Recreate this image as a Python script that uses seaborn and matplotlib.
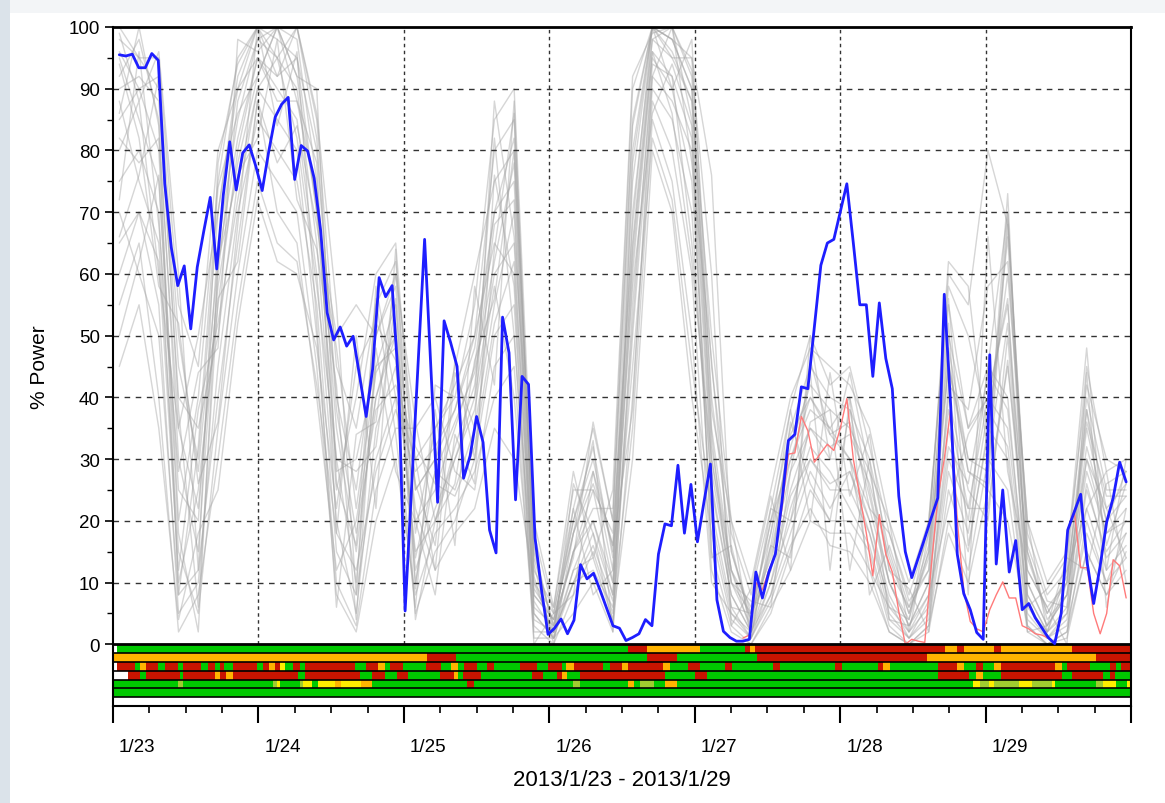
import numpy as np
import pandas as pd
import matplotlib
matplotlib.use('Agg')
import matplotlib.pyplot as plt
import seaborn as sns
from matplotlib.transforms import ScaledTranslation
from matplotlib.patches import Rectangle
from matplotlib.ticker import FixedLocator, MultipleLocator

sns.set_style('ticks')
plt.rcParams['font.family'] = ['Liberation Sans', 'DejaVu Sans']

# ---------------- data ----------------
day_labels = ['1/23', '1/24', '1/25', '1/26', '1/27', '1/28', '1/29', '']
x_title = '2013/1/23 - 2013/1/29'
y_title = '% Power'

blue_power = [95.5, 95.3, 95.6, 93.4, 93.4, 95.7, 94.6, 74.6, 64.3, 58.1,
              61.3, 51.1, 61.1, 66.9, 72.4, 60.8, 72.7, 81.4, 73.6, 79.6,
              80.9, 77.5, 73.5, 79.8, 85.4, 87.5, 88.6, 75.3, 80.8, 79.9,
              75.5, 67.0, 53.7, 49.3, 51.4, 48.3, 49.9, 43.4, 36.9, 44.6,
              59.4, 56.3, 58.1, 42.1, 5.4, 25.5, 45.5, 65.6, 44.0, 23.0,
              52.4, 48.9, 45.0, 26.9, 30.5, 36.9, 32.7, 18.5, 14.8, 53.0,
              47.2, 23.4, 43.4, 42.1, 17.2, 8.8, 1.6, 2.6, 4.1, 1.7,
              3.9, 12.9, 10.6, 11.5, 8.8, 5.9, 3.0, 2.6, 0.6, 1.1,
              1.7, 4.0, 3.0, 14.6, 19.5, 19.2, 29.0, 18.0, 25.9, 16.6,
              23.0, 29.2, 7.2, 2.1, 1.1, 0.5, 0.5, 0.8, 11.7, 7.5,
              11.7, 14.6, 23.0, 33.0, 34.0, 41.7, 41.4, 51.4, 61.4, 65.0,
              65.6, 70.1, 74.6, 65.0, 55.0, 55.0, 43.4, 55.3, 46.3, 41.4,
              24.0, 15.0, 10.8, 14.0, 17.2, 20.5, 23.7, 56.7, 38.5, 14.6,
              8.2, 5.6, 1.9, 0.8, 46.9, 13.0, 25.0, 11.7, 16.8, 5.6,
              6.6, 4.3, 2.7, 1.1, 0.1, 5.0, 18.5, 21.4, 24.3, 13.2,
              6.6, 12.7, 19.8, 23.7, 29.5, 26.3]

red_start_index = 96
red_power = [1, 1.5, 10, 8.8, 12, 14.6, 22, 30.8, 31, 36.9,
             34.6, 29.5, 31, 32.4, 31.4, 35, 39.8, 30, 24, 18,
             11.1, 21, 14.6, 11.7, 5.3, 0, 0.8, 0.5, 0.3, 12.7,
             23.7, 30, 38.2, 20, 8.8, 3.7, 2.5, 2, 5.6, 8,
             10.1, 7.5, 7.5, 3, 2.5, 1.7, 1.5, 1, 0.2, 5,
             18.5, 21.7, 12.4, 12.4, 5, 1.7, 5, 13.7, 12.7, 7.5]

gray_members = [
    [98, 95, 90, 45, 30, 70, 92, 100, 98, 95, 80, 40, 25, 50, 60, 25, 30, 38, 50, 80,
     85, 15, 3, 20, 30, 15, 80, 100, 98, 90, 40, 15, 5, 20, 35, 45, 40, 38, 30, 15,
     5, 15, 55, 35, 45, 70, 15, 5, 10, 40, 25, 25],
    [92, 98, 85, 30, 15, 60, 88, 98, 100, 92, 70, 30, 10, 45, 55, 20, 25, 35, 45, 70,
     75, 10, 2, 15, 25, 10, 70, 98, 100, 85, 30, 10, 3, 15, 30, 40, 35, 40, 25, 10,
     3, 10, 45, 30, 28, 70, 10, 3, 8, 35, 20, 28],
    [85, 90, 80, 20, 40, 75, 95, 100, 95, 100, 85, 45, 35, 55, 62, 30, 35, 40, 55, 85,
     90, 18, 5, 22, 35, 20, 85, 100, 95, 95, 45, 18, 8, 22, 38, 50, 42, 45, 32, 18,
     8, 18, 60, 55, 80, 68, 18, 8, 12, 45, 28, 30],
    [75, 80, 70, 10, 25, 55, 80, 95, 90, 85, 60, 20, 5, 35, 45, 15, 20, 30, 40, 60,
     65, 5, 1, 12, 20, 8, 60, 95, 90, 75, 25, 8, 2, 12, 25, 35, 30, 30, 20, 8,
     2, 8, 40, 25, 20, 50, 8, 2, 6, 30, 18, 22],
    [100, 95, 95, 55, 45, 80, 90, 100, 100, 98, 75, 35, 15, 40, 50, 10, 28, 25, 35, 55,
     70, 8, 4, 18, 28, 12, 75, 100, 100, 92, 35, 12, 6, 18, 32, 42, 38, 35, 28, 12,
     6, 12, 50, 35, 40, 55, 12, 6, 10, 38, 22, 26],
    [60, 70, 55, 5, 10, 45, 70, 85, 80, 75, 55, 15, 8, 30, 40, 5, 15, 20, 30, 50,
     55, 3, 0, 8, 15, 5, 50, 90, 85, 70, 20, 5, 1, 10, 20, 30, 25, 25, 18, 5,
     1, 5, 35, 20, 45, 40, 5, 1, 4, 25, 15, 20],
    [95, 85, 75, 25, 20, 65, 85, 98, 95, 90, 65, 25, 40, 60, 65, 25, 30, 45, 60, 75,
     80, 12, 6, 25, 25, 18, 65, 98, 95, 88, 50, 20, 10, 25, 40, 48, 45, 42, 35, 20,
     10, 20, 58, 50, 35, 60, 20, 10, 15, 42, 30, 28],
    [90, 92, 88, 40, 35, 50, 75, 90, 85, 80, 50, 10, 3, 25, 35, 35, 40, 28, 25, 45,
     50, 2, 2, 10, 18, 3, 55, 92, 88, 80, 15, 3, 0, 5, 15, 25, 20, 20, 15, 3,
     0, 3, 25, 15, 35, 30, 3, 0, 2, 20, 10, 18],
    [88, 75, 65, 15, 5, 35, 60, 80, 75, 70, 45, 8, 2, 20, 30, 8, 18, 22, 28, 40,
     45, 1, 1, 5, 10, 2, 40, 88, 80, 60, 12, 2, 0, 6, 12, 20, 18, 18, 12, 2,
     0, 2, 20, 12, 30, 25, 2, 0, 1, 15, 8, 15],
    [80, 88, 60, 35, 50, 70, 90, 95, 92, 95, 70, 50, 55, 50, 58, 18, 35, 42, 50, 65,
     60, 6, 3, 15, 22, 22, 90, 100, 98, 95, 76, 15, 4, 20, 30, 38, 35, 30, 22, 10,
     4, 15, 45, 28, 25, 45, 15, 4, 8, 32, 20, 24],
    [70, 60, 50, 8, 12, 40, 65, 88, 70, 65, 40, 12, 20, 40, 52, 12, 22, 30, 38, 58,
     40, 4, 2, 10, 12, 6, 35, 85, 75, 50, 10, 5, 2, 8, 18, 28, 22, 28, 20, 6,
     2, 6, 30, 22, 40, 35, 6, 2, 5, 22, 12, 16],
    [96, 90, 92, 50, 28, 62, 82, 95, 88, 88, 72, 28, 30, 45, 48, 22, 12, 18, 22, 35,
     30, 10, 5, 20, 32, 14, 62, 96, 92, 82, 28, 10, 5, 14, 28, 35, 32, 34, 26, 14,
     5, 14, 48, 30, 30, 52, 14, 5, 11, 36, 24, 24],
    [55, 65, 40, 2, 8, 30, 55, 75, 65, 62, 42, 18, 12, 28, 38, 28, 32, 38, 48, 70,
     82, 14, 3, 15, 20, 10, 45, 82, 72, 45, 22, 6, 1, 8, 22, 32, 28, 22, 16, 4,
     1, 4, 28, 18, 38, 32, 4, 1, 3, 18, 10, 14],
    [45, 55, 35, 4, 18, 25, 52, 72, 62, 60, 48, 22, 45, 52, 46, 14, 28, 36, 44, 62,
     78, 7, 2, 12, 14, 4, 30, 80, 70, 40, 18, 4, 1, 7, 16, 22, 16, 15, 10, 2,
     0, 3, 18, 10, 25, 20, 3, 0, 2, 15, 8, 12],
    [82, 78, 82, 35, 22, 58, 78, 92, 100, 100, 82, 38, 18, 38, 42, 32, 26, 24, 32, 52,
     62, 9, 4, 18, 26, 16, 68, 100, 96, 88, 32, 12, 4, 16, 34, 40, 34, 36, 24, 10,
     3, 10, 38, 22, 22, 46, 10, 3, 8, 28, 18, 20],
    [65, 70, 62, 12, 38, 52, 72, 90, 95, 82, 58, 30, 28, 32, 56, 4, 20, 32, 42, 68,
     72, 5, 1, 10, 16, 7, 52, 94, 92, 65, 26, 8, 2, 10, 24, 30, 26, 28, 18, 7,
     1, 7, 32, 26, 44, 38, 7, 1, 5, 26, 14, 18],
    [99, 88, 96, 60, 12, 78, 94, 100, 92, 100, 86, 55, 8, 58, 40, 30, 12, 44, 35, 88,
     66, 20, 6, 28, 14, 25, 92, 99, 100, 93, 60, 3, 9, 24, 12, 50, 30, 44, 28, 20,
     2, 18, 62, 58, 30, 73, 6, 9, 14, 48, 12, 30],
    [72, 96, 68, 28, 44, 48, 98, 96, 100, 88, 78, 18, 50, 22, 64, 9, 38, 16, 58, 42,
     88, 13, 0, 18, 33, 2, 78, 100, 90, 98, 38, 20, 1, 18, 38, 20, 44, 24, 34, 12,
     9, 2, 42, 38, 58, 62, 20, 2, 12, 22, 28, 10],
    [50, 62, 76, 18, 2, 62, 76, 82, 98, 72, 64, 42, 4, 48, 28, 20, 8, 34, 26, 76,
     58, 0, 5, 8, 28, 16, 38, 92, 100, 78, 46, 10, 7, 6, 28, 44, 12, 40, 8, 16,
     6, 16, 52, 8, 66, 28, 12, 6, 0, 44, 6, 22],
    [94, 82, 58, 52, 26, 36, 68, 100, 84, 96, 52, 6, 34, 36, 60, 36, 20, 26, 46, 56,
     80, 16, 2, 22, 8, 12, 58, 86, 94, 84, 14, 16, 3, 22, 20, 36, 38, 12, 30, 4,
     3, 8, 22, 34, 40, 56, 2, 3, 14, 12, 26, 28],
    [86, 100, 84, 8, 32, 74, 86, 92, 100, 92, 90, 26, 16, 56, 34, 6, 42, 40, 40, 82,
     50, 8, 4, 14, 36, 20, 84, 100, 98, 90, 34, 6, 5, 12, 36, 26, 20, 38, 22, 18,
     7, 12, 46, 28, 26, 68, 16, 7, 6, 38, 16, 26],
    [66, 76, 92, 38, 6, 56, 62, 88, 78, 84, 68, 48, 22, 44, 50, 26, 16, 46, 30, 64,
     86, 11, 1, 26, 18, 8, 64, 96, 86, 62, 30, 12, 2, 16, 14, 46, 34, 30, 12, 6,
     4, 20, 56, 16, 34, 66, 8, 2, 10, 30, 22, 14],
]

# status strip: (status code, end hour) runs, top row first
strip_rows = [
    [('w', 0.6), ('g', 85), ('r', 88.1), ('o', 96.9), ('g', 104.3), ('r', 105.1), ('o', 106.0),
     ('r', 137.3), ('o', 139.3), ('r', 140.4), ('o', 145.4), ('r', 146.5), ('o', 158.2), ('r', 168)],
    [('o', 51.8), ('r', 56.6), ('g', 88.1), ('r', 93.0), ('g', 106.2), ('r', 134.3), ('o', 162.3), ('r', 168)],
    [('w', 0.6), ('r', 3.6), ('g', 4.4), ('o', 5.5), ('r', 7.4), ('g', 8.6), ('r', 10.7), ('g', 11.6),
     ('r', 14.6), ('g', 15.7), ('r', 16.8), ('g', 17.6), ('r', 18.4), ('g', 19.8), ('r', 23.7),
     ('g', 24.8), ('r', 25.7), ('o', 26.7), ('r', 27.5), ('y', 28.4), ('g', 29.7), ('r', 30.8),
     ('g', 31.7), ('r', 39.9), ('g', 41.8), ('r', 43.8), ('o', 44.9), ('g', 45.7), ('r', 47.9),
     ('g', 51.7), ('r', 54.2), ('g', 55.8), ('o', 56.9), ('g', 58.0), ('r', 60.0), ('g', 61.8),
     ('r', 62.9), ('g', 67.1), ('r', 69.9), ('g', 71.8), ('r', 74.1), ('g', 74.8), ('o', 76.0),
     ('r', 80.9), ('g', 82.0), ('r', 84.0), ('o', 85.0), ('r', 90.8), ('o', 91.9), ('g', 94.9),
     ('r', 96.9), ('g', 101.0), ('r', 102.1), ('g', 108.9), ('r', 110.0), ('g', 119.2), ('r', 120.3),
     ('g', 126.3), ('r', 127.1), ('o', 128.3), ('g', 136.2), ('r', 139.3), ('o', 140.4), ('g', 142.4),
     ('r', 143.5), ('g', 145.4), ('o', 146.5), ('r', 155.5), ('o', 156.6), ('g', 157.4), ('r', 161.2),
     ('g', 164.5), ('r', 165.6), ('g', 166.4), ('r', 168)],
    [('w', 2.5), ('r', 4.4), ('g', 5.5), ('r', 11.0), ('g', 11.6), ('r', 16.8), ('o', 17.6),
     ('r', 18.7), ('o', 19.8), ('r', 30.6), ('g', 31.7), ('r', 40.7), ('g', 42.7), ('r', 44.9),
     ('g', 46.8), ('r', 48.7), ('g', 54.0), ('r', 56.2), ('o', 56.9), ('g', 57.7), ('r', 60.8),
     ('g', 69.1), ('r', 71.0), ('g', 73.2), ('r', 74.1), ('o', 74.9), ('g', 77.1), ('r', 91.1),
     ('g', 96.0), ('r', 98.0), ('g', 136.2), ('r', 141.2), ('g', 142.4), ('o', 143.5), ('g', 146.5),
     ('r', 156.6), ('g', 158.2), ('r', 163.4), ('g', 164.5), ('r', 165.3), ('g', 168)],
    [('g', 10.7), ('l', 11.6), ('g', 26.4), ('l', 27.0), ('y', 27.6), ('g', 30.8), ('l', 31.3),
     ('y', 32.8), ('g', 33.9), ('y', 36.6), ('o', 37.7), ('y', 41.0), ('o', 42.7), ('g', 58.4),
     ('r', 59.6), ('g', 75.9), ('l', 77.0), ('g', 85.0), ('o', 85.9), ('g', 87.0), ('l', 89.2),
     ('g', 91.1), ('o', 93.0), ('g', 142.0), ('y', 143.1), ('l', 144.5), ('y', 145.4), ('l', 149.5),
     ('y', 151.7), ('l', 155.0), ('y', 155.5), ('g', 162.3), ('l', 163.4), ('y', 165.6), ('g', 167.3),
     ('y', 168)],
    [('g', 168)],
    [('w', 168)],
]
strip_colors = {'g': '#00c800', 'r': '#c81400', 'o': '#ffb400', 'y': '#ffee00',
                'l': '#a0cc30', 'w': '#ffffff'}

# ---------------- figure ----------------
W, H = 1165, 804
fig = plt.figure(figsize=(W / 100, H / 100), dpi=100)
fig.patch.set_facecolor('#f3f5f7')
fig.add_artist(Rectangle((0, 0), 10 / W, 1, transform=fig.transFigure,
                         facecolor='#dbe3ea', edgecolor='none', zorder=-2))
fig.add_artist(Rectangle((10 / W, 0), 1, 1 - 14 / H, transform=fig.transFigure,
                         facecolor='white', edgecolor='none', zorder=-1))

ax = fig.add_axes([113 / W, 1 - 707 / H, (1131 - 113) / W, (707 - 28) / H])
ax.set_facecolor('white')

t_first, t_last = 1.04, 167.2
blue_t = np.linspace(t_first, t_last, len(blue_power))
red_t = blue_t[red_start_index:]
gray_t = np.linspace(t_first, t_last, len(gray_members[0]))

gray_df = pd.DataFrame({
    'hour': np.tile(gray_t, len(gray_members)),
    'power': np.concatenate([np.asarray(m, float) for m in gray_members]),
    'member': np.repeat(np.arange(len(gray_members)), len(gray_t)),
})
sns.lineplot(data=gray_df, x='hour', y='power', units='member', estimator=None,
             color='#a4a4a4', alpha=0.45, lw=1.0, ax=ax, legend=False, zorder=1)

# grid (dashed), only over the positive range
ylo, yhi = -10, 100
for yv in range(10, 100, 10):
    ax.axhline(yv, color='#333333', lw=1.0, ls=(0, (4, 4)), zorder=2)
for xv in range(24, 168, 24):
    ax.axvline(xv, ymin=(0 - ylo) / (yhi - ylo), ymax=1, color='#333333', lw=1.0,
               ls=(0, (2.5, 2.5)), zorder=2)

sns.lineplot(x=red_t, y=red_power, color='#ff7a7a', lw=1.0, ax=ax, zorder=3)
sns.lineplot(x=blue_t, y=blue_power, color='#1e1eff', lw=2.0, ax=ax, zorder=6)

# status strip
row_h = 10 / 7
for r, runs in enumerate(strip_rows):
    y0 = -(r + 1) * row_h
    start = 0.0
    for code, end in runs:
        ax.broken_barh([(start, end - start)], (y0, row_h),
                       facecolors=strip_colors[code], edgecolor='none', zorder=4)
        start = end
for k in range(7):
    ax.axhline(-k * row_h, color='black', lw=2.0 if k == 0 else 1.2, zorder=5)

ax.set_xlim(0, 168)
ax.set_ylim(ylo, yhi)

ax.set_yticks(range(0, 101, 10))
ax.yaxis.set_minor_locator(FixedLocator(np.arange(5, 100, 10)))
ax.set_xticks(range(0, 169, 24))
ax.set_xticklabels(day_labels)
ax.xaxis.set_minor_locator(MultipleLocator(6))

ax.tick_params(axis='y', which='major', length=5.5, width=1.2, direction='out',
               labelsize=13.5, pad=4, color='black', labelcolor='black')
ax.tick_params(axis='y', which='minor', length=4, width=1.0, direction='out', color='black')
ax.tick_params(axis='x', which='major', length=12, width=1.5, direction='out',
               labelsize=13.5, pad=11, color='black', labelcolor='black')
ax.tick_params(axis='x', which='minor', length=5, width=1.2, direction='out', color='black')

offset = ScaledTranslation(6 / 100, 0, fig.dpi_scale_trans)
for lab in ax.get_xticklabels():
    lab.set_horizontalalignment('left')
    lab.set_transform(lab.get_transform() + offset)

for name, sp in ax.spines.items():
    sp.set_visible(True)
    sp.set_color('black')
    sp.set_linewidth(2.0 if name == 'top' else 1.5)
    sp.set_zorder(7)

ax.set_xlabel(x_title, fontsize=16, labelpad=10, color='black')
ax.set_ylabel(y_title, fontsize=15, labelpad=14, color='black')

fig.savefig('out.png', dpi=100, facecolor=fig.get_facecolor())
